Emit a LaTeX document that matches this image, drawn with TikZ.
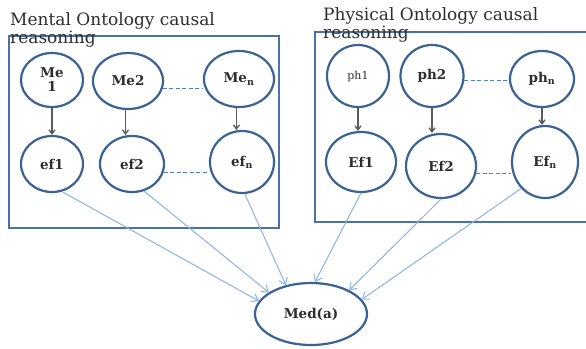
\documentclass[tikz,border=0pt]{standalone}
\usepackage{fontspec}
\setmainfont{DejaVu Serif}
\usetikzlibrary{shapes.geometric,arrows.meta}
\definecolor{ringblue}{RGB}{58,98,148}
\definecolor{boxblue}{RGB}{74,114,166}
\definecolor{dashblue}{RGB}{79,129,189}
\definecolor{linkblue}{RGB}{141,179,226}
\definecolor{stemgray}{RGB}{90,90,90}
\definecolor{inkgray}{RGB}{45,45,45}
\begin{document}
\begin{tikzpicture}[x=1pt,y=-1pt,
  state/.style={ellipse, draw=ringblue, line width=2.2pt, fill=white, inner sep=0pt,
    font=\fontsize{13.5}{14}\selectfont\bfseries, text=inkgray, align=center},
  frame/.style={draw=boxblue, line width=2.2pt},
  title/.style={anchor=base west, align=left, inner sep=0pt,
    font=\fontsize{17}{18}\selectfont, text=inkgray},
  stem/.style={draw=stemgray, line width=1.3pt, -{Straight Barb[length=4pt,width=6pt]}},
  etc/.style={draw=dashblue, line width=1.3pt, dash pattern=on 4pt off 2.5pt},
  link/.style={draw=linkblue, line width=1pt, -{Straight Barb[length=6pt,width=9pt]}},
]
\useasboundingbox (0,0) rectangle (586,348);
\fill[white] (0,0) rectangle (586,348);

% the two reasoning frames
\draw[frame] (9,36) rectangle (279,228);
\draw[frame] (315,32) rectangle (600,222);

% two-line captions, anchored on the baseline of their second line
\node[title] (mtitle) at (10,43) {Mental Ontology causal\\reasoning};
\node[title] (ptitle) at (323,38) {Physical Ontology causal\\reasoning};

% mental causes and effects
\node[state, minimum width=62pt, minimum height=54pt] (me1) at (52,80) {Me\\1};
\node[state, minimum width=70pt, minimum height=56pt] (me2) at (128,81) {Me2};
\node[state, minimum width=70pt, minimum height=56pt] (men) at (239,79) {Me\textsubscript{n}};
\node[state, minimum width=62pt, minimum height=56pt] (ef1) at (52,164) {ef1};
\node[state, minimum width=64pt, minimum height=56pt] (ef2) at (132,164) {ef2};
\node[state, minimum width=64pt, minimum height=62pt] (efn) at (242,162) {ef\textsubscript{n}};

% physical causes and effects
\node[state, minimum width=62pt, minimum height=62pt, font=\fontsize{11}{12}\selectfont] (ph1) at (358,76) {ph1};
\node[state, minimum width=63pt, minimum height=62pt] (ph2) at (432,76) {ph2};
\node[state, minimum width=64pt, minimum height=56pt] (phn) at (542,79) {ph\textsubscript{n}};
\node[state, minimum width=70pt, minimum height=60pt] (Ef1) at (361,162) {Ef1};
\node[state, minimum width=70pt, minimum height=64pt] (Ef2) at (441,166) {Ef2};
\node[state, minimum width=66pt, minimum height=72pt] (Efn) at (545,162) {Ef\textsubscript{n}};

% mediator
\node[state, minimum width=112pt, minimum height=62pt] (med) at (311,314) {Med(a)};

% cause -> effect
\draw[stem] (me1.south) -- (me1.south |- ef1.north);
\draw[stem] (me2.265) -- (me2.265 |- ef2.north);
\draw[stem] (men.265) -- (men.265 |- efn.north);
\draw[stem] (ph1.south) -- (ph1.south |- Ef1.north);
\draw[stem] (ph2.south) -- (ph2.south |- Ef2.north);
\draw[stem] (phn.south) -- (phn.south |- Efn.north);

% elided members of each row
\draw[etc] (me2.-12) -- (me2.-12 -| men.west);
\draw[etc] (ef2.-15) -- (ef2.-15 -| efn.west);
\draw[etc] (ph2.-8) -- (ph2.-8 -| phn.west);
\draw[etc] (Ef2.-12) -- (Ef2.-12 -| Efn.west);

% effects feeding the mediator
\draw[link] (ef1.-70) -- (med.166);
\draw[link] (ef2.-66) -- (med.153);
\draw[link] (efn.-85) -- (med.131);
\draw[link] (Ef1.-90) -- (med.83);
\draw[link] (Ef2.-90) -- (med.32);
\draw[link] (Efn.-132) -- (med.16);
\end{tikzpicture}
\end{document}
